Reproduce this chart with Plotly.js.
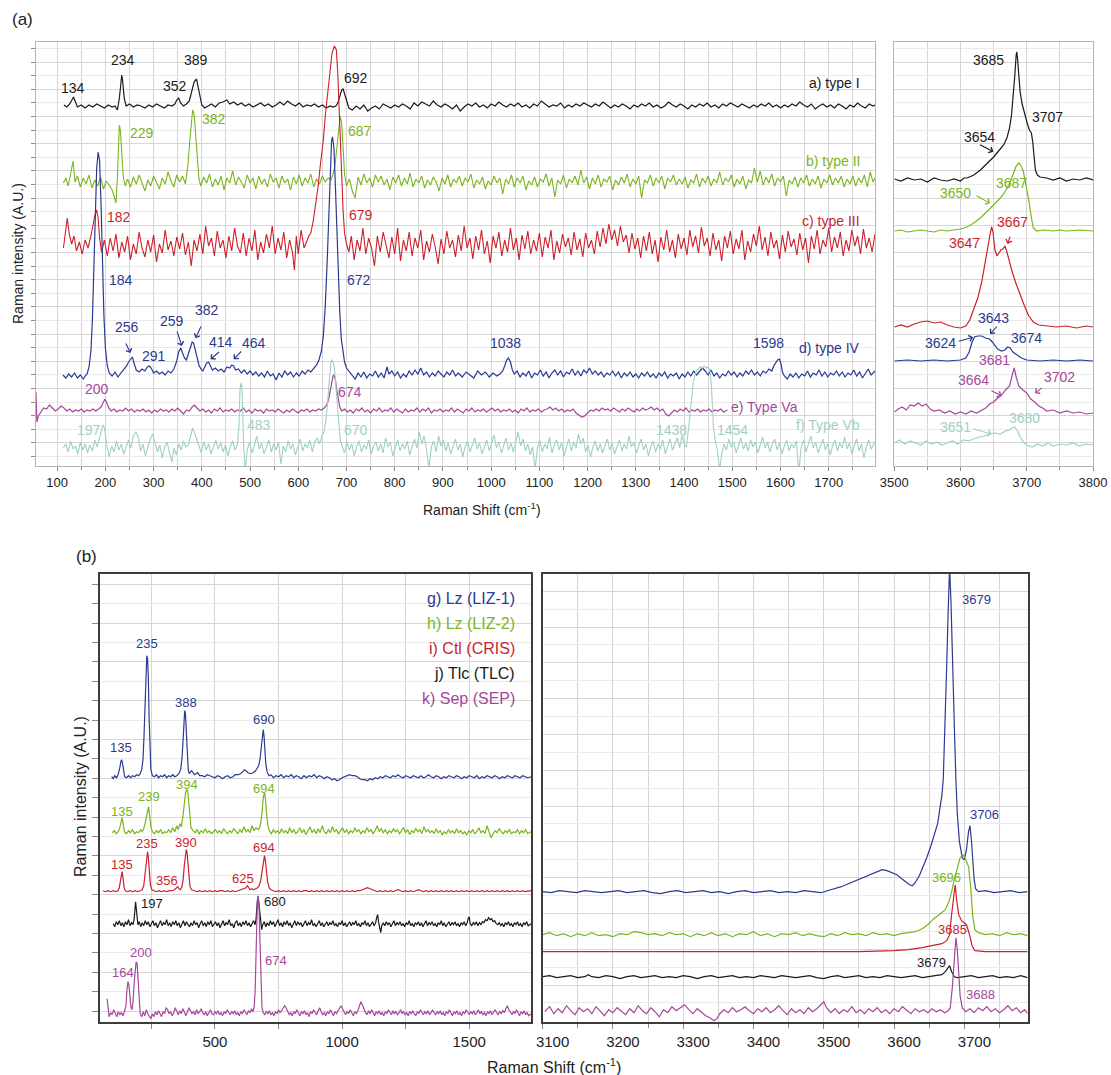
<!DOCTYPE html>
<html><head><meta charset="utf-8">
<script src="https://cdn.plot.ly/plotly-3.0.1.min.js"></script>
<style>html,body{margin:0;padding:0;background:#fff}#plot{width:1111px;height:1075px}</style>
</head><body><div id="plot"></div>
<script>
// ---- colours ----
const K='#1a1a1a', G='#7ab51d', R='#cc1f2a', B='#2b3990', P='#a4489c', T='#9fd0c6';

// ---- panel (a) left: Raman shift (cm-1), intensity (A.U.) as flat [x,y,...] pairs ----
const typeI=[114,361,120,359,126,362,130,365,134,369,138,364,142,359,150,361,158,358,166,361,174,359,182,362,190,360,198,358,206,361,214,359,220,360,225,356,229,368,232,382,234,391,236,384,239,368,243,360,250,362,258,359,266,361,274,360,282,358,290,361,298,359,306,362,314,360,322,358,330,361,338,360,344,362,348,366,352,368,356,363,362,360,368,362,374,365,380,376,384,384,389,387,392,380,396,368,400,361,406,358,412,360,420,362,428,359,436,363,444,364,452,366,458,362,466,364,474,361,482,363,490,360,498,362,506,359,514,361,522,363,530,360,538,362,546,359,554,361,562,364,570,361,578,365,586,362,594,360,602,363,610,359,618,361,626,360,634,362,642,359,650,361,658,358,666,360,672,359,678,360,682,363,686,370,690,376,693,377,696,372,700,364,705,358,712,356,720,360,728,357,736,361,744,355,752,358,760,360,768,357,776,362,784,360,792,358,800,361,808,359,816,362,824,360,832,357,840,363,848,360,856,364,864,362,872,360,880,365,888,361,896,359,904,362,912,360,920,357,928,361,936,355,944,359,952,362,960,360,968,363,976,359,984,361,992,358,1000,362,1008,360,1016,364,1024,361,1032,359,1040,362,1048,360,1056,363,1064,359,1072,361,1080,358,1088,362,1096,360,1104,365,1112,362,1120,359,1128,361,1136,360,1144,363,1152,358,1160,361,1168,359,1176,362,1184,360,1192,363,1200,361,1208,359,1216,362,1224,360,1232,364,1240,361,1248,358,1256,361,1264,359,1272,362,1280,360,1288,357,1296,361,1304,359,1312,362,1320,360,1328,363,1336,359,1344,361,1352,358,1360,360,1368,364,1376,361,1384,359,1392,362,1400,360,1408,357,1416,361,1424,359,1432,362,1440,360,1448,363,1456,359,1464,361,1472,358,1480,362,1488,360,1496,363,1504,361,1512,359,1520,362,1528,360,1536,358,1544,361,1552,359,1560,362,1568,360,1576,363,1584,359,1592,361,1600,358,1608,361,1616,359,1624,362,1632,360,1640,364,1648,361,1656,359,1664,362,1672,357,1680,360,1688,362,1696,359,1704,361,1712,358,1720,362,1728,360,1736,357,1744,361,1752,359,1760,363,1768,360,1776,358,1784,362,1792,360,1796,361];
const typeII=[113,283,118,288,123,280,128,292,133,305,137,284,142,290,148,279,154,288,160,282,166,291,172,278,178,286,184,280,190,289,196,277,202,285,208,281,214,276,218,270,222,263,225,290,227,322,229,341,231,336,234,312,237,290,241,280,246,287,252,279,258,289,264,282,270,291,276,283,282,275,288,286,294,280,300,290,306,283,312,277,318,288,324,282,330,294,336,285,342,279,348,291,354,284,360,290,366,282,371,300,375,325,378,345,381,356,384,352,387,330,390,305,394,287,398,280,404,289,410,283,416,292,422,279,428,287,434,281,440,290,446,276,452,288,458,283,464,295,470,281,476,289,482,284,488,278,494,291,500,283,506,288,512,277,518,290,524,282,530,287,536,279,542,292,548,284,554,288,560,278,566,290,572,283,578,287,584,276,590,289,596,282,602,291,608,280,614,288,620,283,626,292,632,279,638,287,644,282,650,290,656,284,662,288,668,286,672,292,676,300,680,318,684,340,687,350,690,342,693,318,696,292,700,280,706,287,712,275,718,268,724,289,730,281,736,292,742,283,748,288,754,279,760,291,766,284,772,290,778,281,784,287,790,276,796,289,802,283,808,291,814,280,820,288,826,282,832,293,838,279,844,287,850,283,856,290,862,278,868,286,874,281,880,289,886,284,892,275,898,288,904,282,910,291,916,279,922,287,928,283,934,290,940,280,946,288,952,284,958,292,964,278,970,286,976,282,982,289,988,277,994,285,1000,281,1006,290,1012,283,1018,288,1024,272,1030,287,1036,282,1042,291,1048,279,1054,288,1060,283,1066,290,1072,276,1078,285,1084,281,1090,289,1096,279,1102,287,1108,284,1114,292,1120,280,1126,288,1132,269,1138,286,1144,282,1150,291,1156,278,1162,287,1168,283,1174,290,1180,281,1186,296,1192,283,1198,289,1204,277,1210,288,1216,282,1222,291,1228,279,1234,287,1240,284,1246,290,1252,276,1258,286,1264,281,1270,289,1276,283,1282,292,1288,279,1294,287,1300,282,1306,290,1312,268,1318,286,1324,283,1330,291,1336,280,1342,288,1348,283,1354,290,1360,277,1366,288,1372,284,1378,291,1384,281,1390,287,1396,282,1402,289,1408,278,1414,286,1420,283,1426,292,1432,279,1438,288,1444,283,1450,290,1456,280,1462,287,1468,283,1474,294,1480,281,1486,288,1492,284,1498,291,1504,279,1510,287,1516,282,1522,290,1528,277,1534,286,1540,283,1546,298,1552,284,1558,295,1564,281,1570,289,1576,283,1582,292,1588,280,1594,288,1600,284,1606,290,1612,270,1618,286,1624,282,1630,289,1636,279,1642,288,1648,283,1654,291,1660,280,1666,287,1672,282,1678,290,1684,278,1690,287,1696,283,1702,291,1708,281,1714,288,1720,283,1726,290,1732,279,1738,287,1744,282,1750,290,1756,280,1762,288,1768,283,1774,291,1780,279,1786,294,1792,284,1796,288];
const typeIII=[113,218,117,235,121,248,125,232,130,222,135,230,140,215,146,224,152,212,158,226,164,218,170,230,174,240,178,250,182,256,185,248,188,228,192,214,198,226,204,210,210,228,216,215,222,232,228,208,234,224,240,214,246,230,252,206,258,222,264,212,270,234,276,218,282,209,288,226,294,214,300,231,306,204,312,222,318,213,324,236,330,216,336,225,342,210,348,229,354,217,360,233,366,211,372,224,378,200,384,226,390,215,396,232,402,212,408,240,414,220,420,228,426,210,432,235,438,218,444,226,450,208,456,230,462,215,468,238,474,220,480,213,486,233,492,210,498,228,504,215,510,236,516,206,522,224,528,213,534,232,540,218,546,240,552,212,558,228,564,216,570,234,576,208,582,226,588,214,592,196,596,230,600,212,606,236,612,218,618,226,622,230,626,233,631,245,636,262,641,279,646,302,652,326,656,350,661,373,666,398,670,413,675,420,679,416,682,392,685,356,688,316,690,279,693,255,696,233,700,222,705,214,710,230,716,206,722,226,728,215,734,238,740,212,746,228,752,218,758,200,764,230,770,214,776,234,782,220,788,208,794,229,800,212,806,238,812,205,818,226,824,215,830,234,836,210,842,228,848,218,854,236,860,206,866,225,872,214,878,232,884,219,890,202,896,227,902,212,908,235,914,218,920,226,926,209,932,231,938,215,944,240,950,218,956,228,962,207,968,230,974,216,980,236,986,212,992,225,998,203,1004,230,1010,218,1016,234,1022,210,1028,226,1034,214,1040,238,1046,216,1052,228,1058,206,1064,231,1070,217,1076,235,1082,212,1088,226,1094,215,1100,233,1106,209,1112,229,1118,218,1124,236,1130,206,1136,225,1142,213,1148,232,1154,219,1160,228,1166,211,1172,234,1178,216,1184,227,1190,209,1196,233,1202,218,1208,226,1214,212,1220,235,1226,219,1232,238,1238,222,1244,242,1250,226,1256,236,1262,220,1268,240,1274,224,1280,231,1286,213,1292,233,1298,217,1304,228,1310,208,1316,230,1322,215,1328,234,1334,212,1340,226,1346,204,1352,229,1358,216,1364,236,1370,214,1376,226,1382,208,1388,232,1394,217,1400,228,1406,211,1412,236,1418,219,1424,230,1430,213,1436,239,1442,220,1448,228,1454,210,1460,233,1466,216,1472,226,1478,205,1484,230,1490,218,1496,235,1502,212,1508,227,1514,217,1520,236,1526,206,1532,225,1538,214,1544,232,1550,220,1556,240,1562,216,1568,229,1574,210,1580,234,1586,218,1592,226,1598,207,1604,231,1610,214,1616,235,1622,219,1628,227,1634,211,1640,233,1646,216,1652,228,1658,203,1664,230,1670,217,1676,236,1682,212,1688,226,1694,219,1700,238,1706,214,1712,229,1718,218,1724,234,1730,210,1736,226,1742,215,1748,236,1754,220,1760,230,1766,212,1772,237,1778,218,1784,228,1790,214,1796,232];
const typeIV=[112,91,118,88,124,92,130,89,136,93,142,88,148,91,154,87,158,90,162,92,166,99,170,115,173,145,176,190,179,250,182,298,185,314,188,305,191,262,194,200,197,150,200,118,204,100,208,93,214,90,220,94,226,89,232,93,238,96,244,100,248,104,252,106,256,109,260,102,264,96,270,94,276,97,282,95,287,99,291,100,295,98,300,93,306,95,312,92,318,94,324,91,330,95,336,93,342,97,348,105,352,114,356,118,360,113,364,108,368,106,372,112,376,119,380,124,383,123,386,117,390,108,394,101,398,97,402,95,406,99,410,103,414,104,418,100,422,96,428,98,434,95,440,97,446,94,452,99,458,98,462,101,466,100,470,96,476,97,482,93,488,96,494,92,500,95,506,91,512,94,518,90,524,93,530,89,536,95,542,90,548,92,554,86,560,93,566,89,572,95,578,91,584,94,590,89,596,93,602,90,608,95,614,92,620,96,626,94,632,98,638,101,643,106,648,115,652,130,656,160,660,205,663,250,666,295,669,325,671,329,674,318,677,280,680,232,683,190,686,155,689,128,692,115,696,104,700,98,706,94,712,91,718,87,724,93,730,89,736,94,742,88,748,92,754,90,760,95,766,89,772,93,778,88,784,99,788,92,794,95,800,90,806,94,812,88,818,92,824,89,830,95,836,91,842,96,848,92,854,98,860,91,866,94,872,89,878,93,884,90,890,95,896,92,902,89,908,94,914,91,920,96,926,90,932,93,940,89,948,94,956,91,964,88,972,95,980,91,988,94,996,89,1004,93,1012,90,1018,92,1024,95,1028,100,1032,106,1036,108,1040,104,1044,96,1048,92,1054,95,1060,89,1066,93,1072,90,1078,95,1084,88,1090,93,1096,91,1102,96,1108,90,1114,94,1120,88,1126,93,1132,96,1138,91,1144,95,1150,89,1156,94,1162,92,1168,97,1174,91,1180,95,1186,90,1192,96,1198,93,1204,98,1210,92,1216,95,1222,91,1228,94,1234,89,1240,93,1246,91,1252,95,1258,90,1264,94,1270,88,1276,93,1282,90,1288,94,1294,89,1300,92,1306,88,1312,93,1318,90,1324,94,1330,89,1336,92,1342,88,1348,93,1354,90,1360,94,1366,88,1372,92,1378,90,1384,93,1390,87,1396,92,1402,89,1408,94,1414,90,1420,95,1426,91,1432,94,1438,98,1444,95,1450,91,1456,96,1462,90,1468,93,1474,88,1480,92,1486,90,1492,95,1498,91,1504,94,1510,89,1516,93,1522,90,1528,95,1534,92,1540,96,1546,91,1552,94,1558,90,1564,95,1570,93,1576,97,1582,95,1586,100,1590,103,1594,106,1598,107,1601,102,1604,94,1608,90,1614,87,1620,92,1626,89,1632,93,1638,88,1644,92,1650,90,1656,95,1662,89,1668,93,1674,91,1680,96,1686,90,1692,94,1698,89,1704,93,1710,91,1716,95,1722,90,1728,94,1734,89,1740,93,1746,91,1752,96,1758,90,1764,94,1770,88,1776,93,1782,97,1788,91,1796,95];
const typeVa=[56,74,58,44,61,50,66,54,72,58,78,57,84,61,90,58,96,55,102,57,108,60,114,58,120,55,126,57,132,54,138,56,144,55,150,57,156,54,162,56,168,55,174,57,180,55,186,57,191,59,195,63,199,67,203,63,207,58,212,55,218,57,224,54,230,56,236,55,242,58,248,55,254,57,260,54,266,56,272,55,278,57,284,54,290,56,296,53,302,56,308,54,314,57,320,55,326,56,332,54,338,57,344,55,350,58,356,55,362,52,368,56,374,55,380,59,385,61,390,58,396,55,402,57,408,54,414,56,420,53,426,57,432,55,438,58,444,54,450,56,456,55,462,57,468,54,474,56,480,55,486,58,492,54,498,56,504,53,510,57,516,55,522,56,528,53,534,57,540,55,546,56,552,54,558,57,564,55,570,53,576,56,582,54,588,57,594,55,600,53,606,56,612,55,618,57,624,54,630,56,636,55,642,57,648,56,654,58,659,61,663,67,666,75,669,84,672,90,674,91,677,86,680,76,683,66,686,59,690,55,696,57,702,54,708,56,714,53,720,57,726,55,732,58,738,54,744,56,750,53,756,57,762,55,768,58,774,54,780,56,786,55,792,58,798,54,804,57,810,55,816,53,822,57,828,54,834,56,840,55,846,58,852,54,858,57,864,55,870,58,876,53,882,56,888,55,894,57,900,54,906,56,912,55,918,58,924,54,930,57,936,55,942,53,948,57,954,55,960,58,966,54,972,56,978,55,984,57,990,54,996,56,1002,58,1008,55,1014,57,1020,54,1026,56,1032,55,1038,57,1044,54,1050,56,1056,53,1062,57,1068,55,1074,58,1080,54,1086,56,1092,55,1098,57,1104,54,1110,56,1116,57,1122,59,1128,56,1134,58,1140,55,1146,57,1152,54,1158,56,1164,55,1170,57,1176,53,1182,51,1188,49,1194,50,1200,53,1206,56,1212,55,1218,57,1224,55,1230,58,1236,56,1242,57,1248,55,1254,58,1260,56,1266,54,1272,57,1278,55,1284,58,1290,56,1296,54,1302,57,1308,55,1314,58,1320,56,1326,57,1332,59,1338,56,1344,58,1350,55,1356,57,1362,52,1368,50,1374,53,1380,56,1386,54,1392,57,1398,55,1404,58,1410,54,1416,56,1422,55,1428,57,1434,54,1440,56,1446,55,1452,57,1458,54,1464,56,1470,55,1476,57,1482,54,1490,56];
const typeVb=[113,18,118,22,123,14,128,25,133,17,138,20,143,12,148,24,153,16,158,22,163,13,168,21,173,15,178,26,183,19,188,28,192,35,195,41,198,38,201,26,204,18,208,9,213,20,218,14,223,25,228,16,233,22,238,12,243,19,248,26,253,18,258,30,263,34,268,29,273,15,278,22,283,10,288,20,293,27,298,32,303,24,308,14,313,21,318,8,323,19,328,24,333,13,338,4,342,18,347,11,352,22,357,16,362,25,367,19,372,21,377,30,381,38,385,33,389,26,394,20,399,13,404,24,409,16,414,22,419,12,424,20,429,26,434,17,439,23,444,14,449,21,454,10,459,19,464,25,469,16,474,22,477,40,479,75,481,83,483,80,485,45,487,18,490,-4,494,16,499,24,504,13,509,21,514,30,519,17,524,23,529,12,534,19,539,26,544,14,549,22,554,16,559,24,564,2,569,20,574,14,579,25,584,17,589,22,594,11,599,19,604,27,609,15,614,22,619,18,624,26,629,14,634,24,639,28,644,22,649,30,653,34,657,45,660,58,663,78,666,98,668,105,670,106,672,104,675,98,678,80,681,55,684,38,687,26,691,20,696,13,701,24,706,16,711,22,716,10,721,19,726,25,731,14,736,21,741,17,746,26,751,12,756,20,761,24,766,15,771,22,776,13,781,28,786,19,791,24,796,10,801,18,806,26,811,15,816,22,821,17,826,25,831,11,836,20,841,27,846,18,851,34,856,22,861,30,866,16,871,-2,876,19,881,25,886,14,891,30,896,20,901,26,906,15,911,23,916,12,921,20,926,27,931,16,936,22,941,9,946,19,951,25,956,14,961,21,966,28,971,17,976,23,981,12,986,20,991,26,996,15,1001,22,1006,31,1011,18,1016,24,1021,13,1026,21,1031,28,1036,16,1041,23,1046,14,1051,25,1056,34,1061,20,1066,27,1071,15,1076,22,1081,11,1086,19,1091,-3,1096,18,1101,26,1106,14,1111,22,1116,17,1121,29,1126,13,1131,21,1136,26,1141,16,1146,23,1151,10,1156,20,1161,27,1166,15,1171,24,1176,18,1181,32,1186,22,1191,28,1196,14,1201,21,1206,9,1211,19,1216,25,1221,15,1226,22,1231,13,1236,20,1241,27,1246,16,1251,23,1256,12,1261,20,1266,26,1271,15,1276,22,1281,17,1286,30,1291,19,1296,24,1301,13,1306,21,1311,27,1316,16,1321,22,1326,10,1331,19,1336,25,1341,14,1346,22,1351,17,1356,26,1361,12,1366,20,1371,27,1376,16,1381,23,1386,28,1391,18,1396,31,1401,21,1405,19,1410,40,1415,68,1419,83,1423,92,1426,96,1430,97,1434,99,1438,98,1442,100,1446,98,1450,99,1454,95,1457,78,1461,39,1465,24,1468,19,1471,5,1474,-4,1478,12,1483,22,1488,16,1493,27,1498,19,1503,24,1508,13,1513,21,1518,28,1523,17,1528,23,1533,15,1538,26,1543,19,1548,24,1553,13,1558,21,1563,29,1568,18,1573,24,1578,14,1583,22,1588,27,1593,16,1598,23,1603,12,1608,20,1613,26,1618,15,1623,22,1628,18,1633,25,1638,-6,1643,19,1648,26,1653,14,1658,22,1663,30,1668,18,1673,24,1678,13,1683,21,1688,27,1693,16,1698,22,1703,11,1708,20,1713,26,1718,15,1723,23,1728,18,1733,29,1738,17,1743,23,1748,12,1753,20,1758,27,1763,15,1768,22,1773,8,1778,19,1783,26,1788,17,1796,24];

// ---- panel (a) right: OH region ----
const ohI=[3500,287,3510,285,3520,288,3530,286,3540,287,3550,284,3560,288,3570,286,3580,285,3590,287,3600,285,3605,288,3610,288,3620,291,3630,296,3640,302,3650,309,3655,313,3660,317,3665,321,3670,328,3674,338,3677,351,3680,371,3682,391,3684,411,3685,414,3686,408,3688,391,3690,374,3693,362,3697,351,3701,342,3704,336,3707,333,3709,324,3711,308,3713,296,3716,291,3720,289,3730,288,3740,286,3750,288,3760,285,3770,287,3780,286,3790,288,3800,286];
const ohII=[3500,235,3510,236,3520,234,3530,235,3540,236,3550,235,3560,234,3570,236,3580,235,3590,236,3600,237,3610,239,3620,243,3630,248,3640,254,3650,261,3660,268,3668,275,3675,284,3680,292,3684,300,3688,303,3691,301,3695,294,3699,281,3703,266,3707,248,3710,238,3715,235,3725,236,3740,235,3750,236,3760,235,3780,236,3800,235];
const ohIII=[3500,139,3510,141,3520,139,3530,142,3540,144,3550,145,3560,143,3570,144,3580,141,3590,139,3600,138,3608,140,3614,146,3620,156,3626,168,3632,184,3637,201,3641,218,3645,233,3647,239,3649,234,3652,216,3655,210,3658,213,3661,216,3664,217,3667,220,3670,214,3674,204,3678,194,3684,182,3690,171,3696,161,3703,150,3710,144,3718,141,3730,140,3745,139,3760,140,3775,138,3790,140,3800,139];
const ohIV=[3500,105,3520,106,3540,105,3560,106,3580,105,3600,106,3608,108,3613,114,3617,123,3621,129,3626,130,3632,130,3638,128,3644,127,3648,124,3652,120,3656,117,3662,115,3667,116,3671,119,3675,118,3679,114,3685,111,3692,108,3700,106,3720,105,3740,106,3760,105,3780,106,3800,105];
const ohVa=[3500,54,3506,57,3512,59,3518,56,3524,61,3530,60,3536,63,3542,60,3548,62,3554,57,3560,55,3568,56,3576,53,3584,55,3592,52,3600,54,3608,52,3616,55,3624,53,3632,56,3638,58,3644,62,3650,64,3656,68,3662,71,3668,76,3674,80,3678,91,3681,98,3684,89,3688,80,3694,76,3700,73,3706,67,3712,64,3718,60,3724,58,3730,55,3740,56,3750,53,3760,55,3770,53,3780,54,3790,52,3800,53];
const ohVb=[3500,23,3508,26,3516,22,3524,25,3532,23,3540,21,3548,25,3556,22,3564,24,3572,21,3580,23,3588,25,3596,22,3604,26,3612,25,3620,27,3628,29,3636,30,3644,32,3652,33,3660,32,3668,35,3674,36,3678,38,3682,39,3686,35,3690,29,3695,24,3700,21,3708,19,3716,22,3724,20,3732,23,3740,20,3750,22,3760,21,3770,23,3780,20,3790,22,3800,21];

// ---- panel (b) left ----
const lz1=[94,245,100,243,106,246,112,244,118,246,122,249,126,254,130,260,133,262,136,259,140,250,145,245,152,244,160,246,168,244,176,246,184,245,192,247,200,246,206,248,212,252,217,262,221,285,225,320,229,352,232,366,235,363,238,345,241,305,244,270,248,252,254,246,262,245,270,247,278,244,286,246,294,245,302,247,310,244,318,246,326,245,334,247,342,245,350,246,358,248,365,252,370,262,374,278,378,298,381,311,384,308,387,290,391,265,395,252,399,248,403,250,408,251,414,249,420,247,426,248,432,249,440,246,450,246,460,245,470,247,480,246,490,245,500,244,510,246,520,245,530,243,540,245,550,246,560,244,570,245,580,247,590,247,600,248,610,250,616,252,622,251,630,249,640,248,650,249,660,251,666,253,672,256,677,262,681,272,684,282,687,289,690,292,693,286,696,272,700,258,705,250,712,246,720,247,730,244,740,246,750,245,760,247,770,244,780,246,790,245,800,247,810,244,820,246,830,245,840,243,850,246,860,244,870,246,880,245,890,247,900,244,910,246,920,245,930,243,940,245,950,244,960,242,970,243,980,241,990,242,1000,244,1010,245,1020,246,1030,247,1040,246,1050,246,1060,245,1070,243,1080,242,1090,242,1100,241,1110,243,1120,242,1130,244,1140,243,1150,245,1160,244,1170,246,1180,245,1190,244,1200,246,1210,245,1220,247,1230,245,1240,244,1250,246,1260,245,1270,244,1280,246,1290,245,1300,244,1310,246,1320,244,1330,245,1340,247,1350,245,1360,244,1370,246,1380,245,1390,243,1400,245,1410,244,1420,246,1430,245,1440,244,1450,246,1460,245,1470,243,1480,245,1490,244,1500,246,1510,245,1520,244,1530,246,1540,243,1550,245,1560,244,1570,246,1580,245,1590,244,1600,246,1610,245,1620,243,1630,245,1640,244,1650,246,1660,245,1670,244,1680,246,1690,245,1700,244,1710,246,1720,245,1730,244,1743,245];
const lz2=[96,189,104,191,112,188,120,190,126,194,131,200,135,204,139,198,144,190,152,188,160,191,168,189,176,192,184,188,192,190,200,189,208,192,214,190,220,193,225,198,230,205,235,212,239,215,243,206,248,195,254,190,262,188,270,191,278,189,286,192,294,188,302,190,310,189,318,192,326,189,334,194,342,190,350,196,356,192,362,198,368,195,374,205,379,218,384,228,389,232,393,231,397,220,401,204,406,194,414,191,422,189,430,192,438,188,446,191,454,189,462,193,470,189,478,191,486,188,494,190,502,192,510,189,518,191,526,188,534,193,542,190,550,188,558,191,566,189,574,193,582,190,590,188,598,192,606,189,614,195,622,190,630,192,638,189,646,196,654,191,662,194,670,192,676,194,681,200,686,212,690,224,695,229,699,222,703,208,708,196,714,191,722,188,730,192,738,189,746,191,754,188,762,193,770,189,778,191,786,188,794,194,802,189,810,192,818,188,826,190,834,194,842,189,850,192,858,187,866,191,874,195,882,189,890,192,898,188,906,193,914,189,922,196,930,190,938,188,946,192,954,189,962,195,970,190,978,192,986,188,994,191,1002,194,1010,189,1018,192,1026,188,1034,191,1042,189,1050,194,1058,190,1066,192,1074,188,1082,191,1090,189,1098,194,1106,190,1114,192,1122,188,1130,191,1138,196,1146,190,1154,193,1162,189,1170,192,1178,188,1186,191,1194,189,1202,193,1210,190,1218,192,1226,188,1234,191,1242,194,1250,189,1258,192,1266,187,1274,191,1282,189,1290,193,1298,190,1306,192,1314,188,1322,195,1330,190,1338,192,1346,189,1354,191,1362,188,1370,193,1378,189,1386,191,1394,187,1402,190,1410,188,1418,192,1426,189,1434,191,1442,188,1450,193,1458,189,1466,191,1474,188,1482,190,1490,187,1498,191,1506,189,1514,192,1522,188,1530,190,1538,194,1546,189,1554,191,1562,188,1570,196,1578,190,1586,184,1594,188,1602,191,1610,189,1618,193,1626,190,1634,188,1642,191,1650,189,1658,192,1666,188,1674,190,1682,189,1690,192,1698,188,1706,191,1714,189,1722,192,1730,188,1743,190];
const cris=[60,131,70,130,80,131,90,130,100,131,110,130,118,131,124,134,128,140,131,147,135,150,139,143,143,134,148,131,156,130,166,131,176,130,186,131,196,130,206,131,214,132,220,136,224,145,228,158,232,168,235,170,238,165,242,150,246,137,252,132,260,131,270,130,280,131,290,130,300,131,310,130,320,131,330,131,340,132,346,133,350,134,354,135,358,133,364,132,370,135,375,142,379,155,383,167,387,172,390,170,394,155,398,142,402,135,408,132,420,131,430,130,440,131,450,130,460,131,470,130,480,131,490,130,500,131,510,130,520,131,530,131,540,130,550,131,560,130,570,131,580,130,590,131,600,132,608,132,616,133,622,134,628,136,633,134,638,132,645,133,652,132,660,133,668,134,674,136,680,141,684,148,688,156,692,163,695,166,699,160,703,149,707,140,713,134,720,132,730,131,740,130,750,131,760,130,770,131,780,130,790,131,800,130,810,131,820,130,830,131,840,130,850,131,860,131,870,130,880,131,890,130,900,131,910,130,920,131,930,130,940,131,950,130,960,131,970,130,980,131,990,130,1000,131,1010,130,1020,131,1030,130,1040,131,1050,130,1060,131,1070,131,1080,132,1090,133,1100,134,1110,133,1120,132,1130,131,1140,130,1150,131,1160,130,1170,131,1180,130,1190,131,1200,130,1210,131,1220,132,1230,131,1240,130,1250,131,1260,130,1270,131,1280,130,1290,131,1300,132,1310,131,1320,130,1330,131,1340,130,1350,131,1360,130,1370,131,1380,130,1390,131,1400,130,1410,131,1420,130,1430,131,1440,130,1450,131,1460,130,1470,131,1480,130,1490,131,1500,130,1510,131,1520,130,1530,131,1540,130,1550,131,1560,130,1570,131,1580,130,1590,131,1600,130,1610,131,1620,130,1630,131,1640,130,1650,131,1660,130,1670,131,1680,130,1690,131,1700,130,1710,131,1720,130,1743,131];
const tlc=[100,98,106,95,112,100,118,97,124,101,130,96,136,99,142,95,148,100,154,97,160,102,166,96,172,99,178,97,182,102,186,112,188,120,190,115,193,103,197,97,202,100,208,95,214,99,220,96,226,101,232,97,238,100,244,95,250,98,256,101,262,96,268,99,274,94,280,98,286,101,292,96,298,99,304,97,310,102,316,96,322,99,328,95,334,100,340,97,346,101,352,96,358,99,364,94,370,98,376,101,382,96,388,100,394,97,400,95,406,99,412,96,418,101,424,97,430,99,436,94,442,98,448,101,454,96,460,99,466,95,472,100,478,97,484,101,490,95,496,98,502,100,508,96,514,99,520,94,526,98,532,101,538,96,544,99,550,97,556,102,562,96,568,98,574,94,580,99,586,101,592,96,598,99,604,95,610,100,616,97,622,101,628,96,634,99,640,95,646,98,652,101,658,97,662,103,666,118,669,125,672,120,675,114,678,110,681,100,684,92,688,97,694,100,700,95,706,99,712,96,718,101,724,97,730,100,736,95,742,98,748,102,754,96,760,99,766,95,772,100,778,97,784,101,790,96,796,99,802,94,808,98,814,101,820,96,826,100,832,97,838,99,844,95,850,98,856,101,862,96,868,99,874,97,880,102,886,96,892,98,898,95,904,99,910,101,916,96,922,99,928,95,934,98,940,100,946,96,952,99,958,97,964,101,970,96,976,98,982,95,988,99,994,97,1000,101,1006,96,1012,99,1018,95,1024,98,1030,100,1036,96,1042,99,1048,97,1054,101,1060,96,1066,98,1072,95,1078,99,1084,97,1090,101,1096,96,1102,99,1108,95,1114,98,1120,100,1126,96,1132,99,1136,104,1140,107,1144,99,1148,93,1152,89,1156,96,1162,99,1168,96,1174,100,1180,97,1186,99,1192,95,1198,98,1204,101,1210,96,1216,99,1222,97,1228,100,1234,96,1240,98,1246,95,1252,99,1258,97,1264,101,1270,96,1276,98,1282,95,1288,99,1294,97,1300,100,1306,96,1312,99,1318,95,1324,98,1330,101,1336,96,1342,99,1348,97,1354,100,1360,96,1366,98,1372,95,1378,99,1384,97,1390,101,1396,96,1402,99,1408,95,1414,98,1420,100,1426,96,1432,99,1438,97,1444,100,1450,96,1456,98,1462,95,1468,99,1474,97,1480,100,1486,96,1492,99,1496,103,1500,105,1504,98,1510,96,1516,99,1522,97,1528,100,1534,96,1540,99,1546,97,1552,100,1558,99,1564,102,1570,101,1576,104,1582,102,1588,103,1594,100,1600,101,1606,98,1612,97,1618,99,1624,96,1630,98,1636,95,1642,99,1648,97,1654,100,1660,96,1666,98,1672,95,1678,99,1684,97,1690,100,1696,96,1702,98,1708,95,1714,99,1720,97,1726,100,1732,96,1743,98];
const sep=[76,23,80,12,84,5,90,9,96,7,102,12,108,8,114,5,120,10,126,7,132,9,138,6,144,10,150,16,154,32,158,40,162,36,166,24,170,14,174,12,178,20,182,38,186,52,190,60,194,58,198,40,202,18,206,8,212,5,218,10,224,6,230,12,236,8,242,5,248,3,254,8,260,5,266,10,272,7,278,11,284,7,290,5,296,10,302,8,308,14,314,12,320,8,326,10,332,6,338,9,344,14,350,10,356,7,362,11,368,8,374,13,380,9,386,6,392,10,398,14,404,11,410,8,416,10,422,7,428,12,434,8,440,10,446,13,452,9,458,7,464,10,470,6,476,9,482,12,488,8,494,7,500,10,506,8,512,11,518,7,524,9,530,6,536,10,542,8,548,12,554,9,560,7,566,10,572,8,578,11,584,7,590,9,596,6,602,10,608,8,614,12,620,9,626,7,632,11,638,9,644,13,650,10,654,14,658,30,661,60,664,100,667,122,670,126,673,118,676,90,679,55,682,28,685,14,690,9,696,7,702,10,708,8,714,11,720,7,726,9,732,6,738,10,744,8,750,12,756,9,762,11,768,14,774,16,780,14,786,10,792,7,798,9,804,6,810,10,816,8,822,12,828,9,834,6,840,10,846,8,852,11,858,7,864,9,870,5,876,10,882,8,888,12,894,9,900,7,906,11,912,14,918,10,924,7,930,9,936,6,942,10,948,8,954,12,960,9,966,6,972,10,978,8,984,11,990,14,996,16,1002,13,1008,9,1014,7,1020,10,1026,8,1032,12,1038,9,1044,6,1050,10,1056,8,1062,11,1068,15,1074,20,1080,17,1086,12,1092,9,1098,7,1104,11,1110,8,1116,12,1122,9,1128,6,1134,10,1140,8,1146,11,1152,7,1158,9,1164,6,1170,10,1176,8,1182,12,1188,9,1194,7,1200,11,1206,8,1212,10,1218,7,1224,9,1230,12,1236,8,1242,10,1248,7,1254,9,1260,6,1266,10,1272,8,1278,11,1284,8,1290,6,1296,10,1302,8,1308,12,1314,9,1320,7,1326,10,1332,8,1338,11,1344,7,1350,9,1356,12,1362,9,1368,7,1374,10,1380,8,1386,11,1392,7,1398,9,1404,6,1410,10,1416,8,1422,12,1428,9,1434,6,1440,10,1446,8,1452,11,1458,7,1464,9,1470,6,1476,10,1482,8,1488,12,1494,9,1500,7,1506,10,1512,8,1518,11,1524,7,1530,9,1536,12,1542,8,1548,10,1554,7,1560,9,1566,6,1572,10,1578,8,1584,11,1590,7,1596,9,1602,12,1608,9,1614,7,1620,10,1626,8,1632,11,1638,9,1644,13,1650,16,1656,12,1662,9,1668,7,1674,10,1680,8,1686,12,1692,9,1698,6,1704,10,1710,8,1716,11,1722,7,1728,9,1734,6,1743,8];

// ---- panel (b) right ----
const lz1OH=[3100,130,3112,129,3124,131,3136,130,3148,129,3160,131,3172,130,3184,129,3196,130,3208,131,3220,129,3232,130,3244,131,3256,129,3268,128,3280,130,3292,131,3304,129,3316,130,3328,131,3340,129,3352,130,3364,128,3376,130,3388,131,3400,129,3412,130,3424,131,3436,129,3448,130,3460,129,3472,131,3484,130,3496,129,3505,131,3515,133,3525,135,3535,138,3545,141,3555,144,3565,147,3575,150,3583,152,3590,151,3597,149,3604,147,3611,143,3618,139,3622,137,3626,136,3630,139,3636,146,3642,156,3647,165,3652,175,3657,186,3662,198,3665,212,3668,226,3670,242,3673,300,3675,358,3677,410,3679,455,3681,420,3683,358,3686,290,3688,242,3690,208,3693,180,3697,164,3700,162,3703,172,3706,190,3708,196,3710,182,3712,160,3714,142,3716,133,3720,130,3730,131,3742,129,3754,130,3766,131,3778,129,3790,130];
const lz2OH=[3100,87,3110,89,3120,86,3130,88,3140,85,3150,88,3160,86,3170,89,3180,86,3190,87,3200,85,3210,88,3220,87,3230,90,3240,89,3250,87,3260,88,3270,86,3280,89,3290,87,3300,88,3310,85,3320,88,3330,86,3340,89,3350,86,3360,88,3370,85,3380,88,3390,87,3400,90,3410,86,3420,88,3430,85,3440,88,3450,87,3460,89,3470,86,3480,88,3490,86,3500,85,3510,88,3520,86,3530,89,3540,87,3550,88,3560,86,3570,89,3580,87,3590,88,3600,86,3610,88,3620,89,3630,90,3640,93,3648,97,3655,102,3662,106,3668,109,3673,112,3678,120,3682,130,3686,143,3690,155,3694,164,3698,167,3702,162,3706,155,3709,135,3712,105,3715,92,3720,89,3730,87,3740,88,3750,86,3760,89,3770,87,3780,88,3790,86];
const crisOH=[3100,70,3150,70,3200,70,3250,70,3300,70,3350,70,3400,70,3450,70,3500,70,3550,70,3600,71,3620,72,3640,74,3655,76,3668,78,3675,81,3679,87,3682,108,3685,130,3687,137,3689,122,3692,107,3696,101,3700,99,3703,97,3707,88,3711,76,3715,71,3730,70,3760,70,3790,70];
const tlcOH=[3100,45,3110,46,3120,44,3130,45,3140,46,3150,44,3160,45,3165,47,3170,45,3180,44,3190,46,3200,45,3210,43,3220,45,3230,46,3240,44,3250,45,3260,46,3270,44,3280,45,3290,44,3300,46,3310,45,3320,43,3330,45,3340,46,3350,44,3360,45,3370,46,3380,44,3390,45,3400,44,3410,46,3420,45,3430,44,3440,46,3450,45,3460,44,3470,45,3480,46,3490,44,3500,43,3510,45,3520,46,3530,44,3540,45,3550,46,3560,44,3570,45,3580,44,3590,46,3600,45,3610,44,3620,45,3630,46,3640,44,3650,45,3660,46,3668,47,3673,50,3676,53,3679,56,3682,50,3686,45,3690,44,3700,45,3710,46,3720,44,3730,45,3740,46,3750,44,3760,45,3770,44,3780,46,3790,44];
const sepOH=[3103,10,3110,15,3116,8,3122,13,3128,9,3134,16,3140,11,3146,7,3152,14,3158,10,3164,13,3170,8,3176,15,3182,11,3188,6,3194,12,3200,9,3206,14,3212,10,3218,7,3224,13,3230,9,3236,16,3242,11,3248,8,3254,14,3260,10,3266,5,3272,12,3278,9,3284,15,3290,11,3296,14,3302,17,3308,12,3314,8,3320,13,3326,9,3332,6,3338,4,3344,1,3348,3,3352,8,3358,12,3364,9,3370,14,3376,10,3382,12,3388,15,3394,11,3400,8,3406,13,3412,10,3418,14,3424,9,3430,12,3436,16,3442,11,3448,7,3454,13,3460,9,3466,12,3472,8,3478,14,3484,10,3490,13,3496,17,3500,20,3504,14,3510,9,3516,13,3522,8,3528,12,3534,10,3540,15,3546,9,3552,12,3558,8,3564,13,3570,10,3576,14,3582,9,3588,12,3594,8,3600,13,3606,10,3612,15,3618,11,3624,8,3630,13,3636,10,3642,12,3648,9,3654,13,3660,10,3666,12,3672,9,3677,11,3680,14,3683,35,3685,60,3688,84,3690,72,3692,48,3694,26,3697,14,3702,10,3708,13,3714,9,3720,14,3726,11,3732,15,3738,10,3744,13,3750,9,3756,12,3762,16,3768,11,3774,14,3780,9,3786,12,3790,8];

// ---- peak labels: [text, x, y, colour, anchor] ----
const labelsA=[['134',133,378,K],['234',236,406,K],['352',344,380,K],['389',388,406,K],['692',720,388,K],
 ['229',275,333,G],['382',425,347,G],['687',727,335,G],['182',228,249,R],['679',731,251,R],
 ['184',233,186,B],['672',726,186,B],['256',244,139,B],['291',301,110,B],['259',339,145,B],['382',410,156,B],['414',440,124,B],['464',508,123,B],['1038',1029,123,B],['1598',1575,123,B],
 ['200',182,77,P],['674',707,74,P],['197',166,36,T],['483',518,41,T],['670',720,36,T],['1438',1374,36,T],['1454',1501,36,T]];
const namesA=[['a) type I',1768,383,K,'right'],['b) type II',1768,305,G,'right'],['c) type III',1770,245,R,'right'],['d) type IV',1770,118,B,'right'],['e) Type Va',1493,59,P,'left'],['f) Type Vb',1770,41,T,'right']];
const arrowsA=[[252,113,241,124,B],[358.6,120,347.7,136,B],[387,127.7,399.6,141,B],[418,106.7,438.8,115.3,B],[466,106.7,484.8,116,B]];
const labelsA2=[['3685',3641.5,406,K],['3707',3730.6,349,K],['3654',3629,329,K],['3687',3677,283,G],['3650',3593,273,G],['3647',3606.7,223,R],['3667',3678.8,244,R],['3643',3649.5,148,B],['3624',3569,123,B],['3674',3700,128,B],['3681',3652,106,P],['3664',3619,86,P],['3702',3750,89,P],['3651',3592,39,T],['3680',3696,48,T]];
const arrowsA2=[[3649.5,314.3,3627,322,K],[3644.5,262.7,3622,271,G],[3671,222,3675.7,231,R],[3644.5,132,3657,141,B],[3619,128.7,3595,124.3,B],[3662,70,3644.5,76,P],[3712.5,72.7,3725,79.3,P],[3647,32,3617,37.7,T]];
const labelsB=[['135',131,274,B],['235',233,378,B],['388',385,319,B],['690',693,302,B],
 ['135',135,210,G],['239',241,225,G],['394',392,237,G],['694',693,233,G],
 ['135',135,157,R],['235',233,178,R],['390',388,179,R],['356',311,141,R],['625',611,143,R],['694',693,174,R],
 ['197',252,118,K],['680',736,120,K],['200',210,69,P],['164',139,49,P],['674',740,61,P]];
const legendB=[['g) Lz (LIZ-1)',1686,423,B,'right'],['h) Lz (LIZ-2)',1686,398,G,'right'],['i) Ctl (CRIS)',1686,373,R,'right'],['j) Tlc (TLC)',1686,348,K,'right'],['k) Sep (SEP)',1686,323,P,'right']];
const labelsB2=[['3679',3718,422,B],['3706',3728,207,B],['3696',3675,144,G],['3685',3683,92,R],['3679',3653,59,K],['3688',3723,27,P]];

// ---- build ----
function pairs(a){const x=[],y=[];for(let i=0;i<a.length;i+=2){x.push(a[i]);y.push(a[i+1]);}return {x,y};}
function tr(a,c,xa,ya,w){const p=pairs(a);return {type:'scatter',mode:'lines',x:p.x,y:p.y,xaxis:xa,yaxis:ya,line:{color:c,width:w||1.2},hoverinfo:'skip'};}
const data=[
 tr(typeI,K,'x','y'),tr(typeII,G,'x','y',1.1),tr(typeIII,R,'x','y',1.1),tr(typeIV,B,'x','y'),tr(typeVa,P,'x','y'),tr(typeVb,T,'x','y',1.1),
 tr(ohI,K,'x2','y2'),tr(ohII,G,'x2','y2'),tr(ohIII,R,'x2','y2'),tr(ohIV,B,'x2','y2'),tr(ohVa,P,'x2','y2'),tr(ohVb,T,'x2','y2'),
 tr(lz1,B,'x3','y3'),tr(lz2,G,'x3','y3'),tr(cris,R,'x3','y3'),tr(tlc,K,'x3','y3'),tr(sep,P,'x3','y3'),
 tr(lz1OH,B,'x4','y4'),tr(lz2OH,G,'x4','y4'),tr(crisOH,R,'x4','y4'),tr(tlcOH,K,'x4','y4'),tr(sepOH,P,'x4','y4')
];
function lab(list,xr,yr,size){return list.map(a=>({text:a[0],x:a[1],y:a[2],xref:xr,yref:yr,showarrow:false,font:{size:size,color:a[3]},xanchor:a[4]||'center',yanchor:'middle'}));}
function arr(list,xr,yr){return list.map(a=>({text:'',x:a[0],y:a[1],ax:a[2],ay:a[3],xref:xr,yref:yr,axref:xr,ayref:yr,showarrow:true,arrowhead:4,arrowsize:1.1,arrowwidth:1.1,arrowcolor:a[4],standoff:0}));}
const W=1111,H=1075;
const fx=(a,b)=>[a/W,b/W], fy=(top,bot)=>[1-bot/H,1-top/H];
function ptxt(text,px,py,size,angle){return {text:text,x:px/W,y:1-py/H,xref:'paper',yref:'paper',xanchor:'center',yanchor:'middle',showarrow:false,textangle:angle||0,font:{size:size,color:'#222'}};}
const gA='#d6d6d6', gA2='#ebebeb', lineA='#b4b4b4', tickC='#8a8a8a';
const ann=[].concat(
 lab(labelsA,'x','y',14),lab(namesA,'x','y',14),arr(arrowsA,'x','y'),
 lab(labelsA2,'x2','y2',14),arr(arrowsA2,'x2','y2'),
 lab(labelsB,'x3','y3',13),lab(legendB,'x3','y3',16),
 lab(labelsB2,'x4','y4',13),
 [ptxt('(a)',22,20,17),ptxt('(b)',86,556,17),
  ptxt('Raman intensity (A.U.)',18,254,14,-90),ptxt('Raman intensity (A.U.)',80,797,16,-90),
  ptxt('Raman Shift (cm<sup>-1</sup>)',482,509,14),ptxt('Raman Shift (cm<sup>-1</sup>)',554,1066,16)]
);
const layout={
 width:W,height:H,margin:{l:0,r:0,t:0,b:0},showlegend:false,paper_bgcolor:'#fff',plot_bgcolor:'#fff',
 font:{family:'Arial, "Liberation Sans", sans-serif',color:'#222'},
 xaxis:{domain:fx(35.7,875),anchor:'y',range:[55.5,1796],tick0:0,dtick:100,ticks:'outside',ticklen:4,tickcolor:tickC,tickfont:{size:13},showgrid:true,gridcolor:gA,zeroline:false,showline:true,mirror:true,linecolor:lineA,linewidth:1,
   minor:{dtick:50,showgrid:true,gridcolor:gA,ticks:'outside',ticklen:3,tickcolor:tickC}},
 yaxis:{domain:fy(42.3,466),anchor:'x',range:[0,423.7],tick0:23.1,dtick:27.2,showticklabels:false,ticks:'outside',ticklen:4,tickcolor:tickC,showgrid:true,gridcolor:gA,zeroline:false,showline:true,mirror:true,linecolor:lineA,linewidth:1,
   minor:{tick0:9.5,dtick:13.6,showgrid:true,gridcolor:gA2,ticks:'outside',ticklen:4,tickcolor:tickC}},
 xaxis2:{domain:fx(894.3,1093),anchor:'y2',range:[3500,3800],tick0:0,dtick:100,ticks:'outside',ticklen:4,tickcolor:tickC,tickfont:{size:13},showgrid:true,gridcolor:gA,zeroline:false,showline:true,mirror:true,linecolor:lineA,linewidth:1,
   minor:{dtick:50,showgrid:true,gridcolor:gA,ticks:'outside',ticklen:3,tickcolor:tickC}},
 yaxis2:{domain:fy(42.3,466),anchor:'x2',range:[0,423.7],tick0:23.1,dtick:27.2,showticklabels:false,ticks:'',showgrid:true,gridcolor:gA,zeroline:false,showline:true,mirror:true,linecolor:lineA,linewidth:1,
   minor:{tick0:9.5,dtick:13.6,showgrid:true,gridcolor:gA2}},
 xaxis3:{domain:fx(100,531),anchor:'y3',range:[48,1743],tick0:0,dtick:500,ticks:'outside',ticklen:5,tickcolor:tickC,tickfont:{size:15},showgrid:true,gridcolor:gA,zeroline:false,showline:true,mirror:true,linecolor:'#3c3c3c',linewidth:2,
   minor:{dtick:250,showgrid:true,gridcolor:gA,ticks:'outside',ticklen:5,tickcolor:tickC}},
 yaxis3:{domain:fy(574,1021.7),anchor:'x3',range:[0,447.7],tick0:10.7,dtick:38.8,showticklabels:false,ticks:'outside',ticklen:6,tickcolor:tickC,showgrid:true,gridcolor:gA,zeroline:false,showline:true,mirror:true,linecolor:'#3c3c3c',linewidth:2,
   minor:{tick0:10.7,dtick:19.4,showgrid:true,gridcolor:gA2,ticks:'outside',ticklen:6,tickcolor:tickC}},
 xaxis4:{domain:fx(542.6,1027.6),anchor:'y4',range:[3100,3790],tick0:0,dtick:100,ticks:'outside',ticklen:5,tickcolor:tickC,tickfont:{size:15},ticklabelshift:10,showgrid:true,gridcolor:gA,zeroline:false,showline:true,mirror:true,linecolor:'#3c3c3c',linewidth:2,
   minor:{dtick:50,showgrid:true,gridcolor:gA,ticks:'outside',ticklen:4,tickcolor:tickC}},
 yaxis4:{domain:fy(574,1021.7),anchor:'x4',range:[0,447.7],tick0:36.7,dtick:35.8,showticklabels:false,ticks:'',showgrid:true,gridcolor:gA,zeroline:false,showline:true,mirror:true,linecolor:'#3c3c3c',linewidth:2,
   minor:{tick0:0.9,dtick:17.9,showgrid:true,gridcolor:gA2}},
 annotations:ann
};
Plotly.newPlot('plot',data,layout,{staticPlot:true,displayModeBar:false});
</script></body></html>
